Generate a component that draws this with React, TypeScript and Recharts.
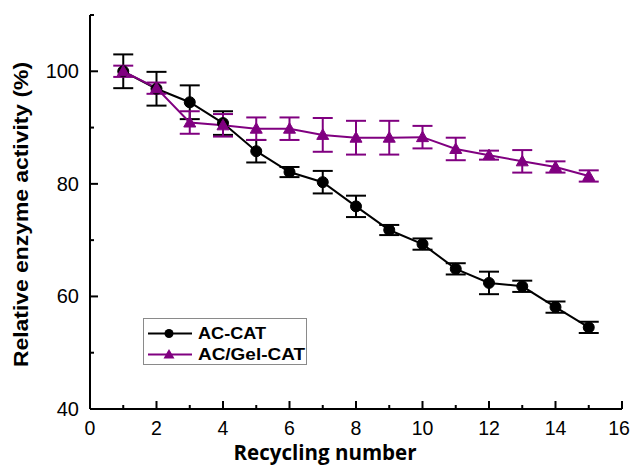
import React from 'react';
import { ComposedChart, Line, XAxis, YAxis, ErrorBar, Legend } from 'recharts';

const cycles = [1, 2, 3, 4, 5, 6, 7, 8, 9, 10, 11, 12, 13, 14, 15];
const acCat = [100, 96.9, 94.5, 90.8, 85.8, 82.1, 80.3, 76.0, 71.8, 69.3, 64.9, 62.4, 61.8, 58.1, 54.5];
const acCatErr = [3, 3, 3, 2.1, 2, 0.9, 2, 1.9, 0.9, 1, 1, 2, 1, 1, 1];
const acGel = [100, 97.0, 90.9, 90.4, 89.8, 89.8, 88.7, 88.2, 88.2, 88.3, 86.2, 85.1, 84.0, 83.0, 81.4];
const acGelErr = [1, 1, 2, 2, 2, 2, 3, 3, 3, 2, 2, 0.8, 2, 1, 1];
const xTicks = [0, 1, 2, 3, 4, 5, 6, 7, 8, 9, 10, 11, 12, 13, 14, 15, 16];
const yTicks = [40, 50, 60, 70, 80, 90, 100, 110];
const seriesNames = ['AC-CAT', 'AC/Gel-CAT'];

const BLACK = '#000000';
const PURPLE = '#800080';
const FONT = '"Liberation Sans", Arial, sans-serif';
const TITLE_FONT = '"Open Sans", "Liberation Sans", sans-serif';

const data = cycles.map((c, i) => ({
  cycle: c,
  acCat: acCat[i],
  acCatErr: acCatErr[i],
  acGel: acGel[i],
  acGelErr: acGelErr[i],
}));

const XTick = (props: any) => {
  const { x, y, payload } = props;
  const major = payload.value % 2 === 0;
  const tx = Math.min(x, 619);
  return (
    <g>
      <line x1={x} x2={x} y1={y} y2={y - (major ? 8 : 4)} stroke="#000" strokeWidth={2} />
      {major && (
        <text x={tx} y={y + 26} textAnchor="middle" fontSize={19.5} fontFamily={FONT} fill="#000">
          {payload.value}
        </text>
      )}
    </g>
  );
};

const YTick = (props: any) => {
  const { x, y, payload } = props;
  const major = payload.value % 20 === 0;
  return (
    <g>
      <line x1={x} x2={x + (major ? 8 : 4)} y1={y} y2={y} stroke="#000" strokeWidth={2} />
      {major && (
        <text x={x - 11} y={y + 7} textAnchor="end" fontSize={20} fontFamily={FONT} fill="#000">
          {payload.value}
        </text>
      )}
    </g>
  );
};

const Triangle = (props: any) => {
  const { cx, cy, fill } = props;
  if (cx == null || cy == null) return null;
  const h = 10;
  const w = 12;
  return (
    <polygon
      points={`${cx},${cy - h * 0.6} ${cx - w / 2},${cy + h * 0.45} ${cx + w / 2},${cy + h * 0.45}`}
      fill={fill}
      stroke={fill}
      strokeWidth={1}
    />
  );
};

const Circle = (props: any) => {
  const { cx, cy, fill } = props;
  if (cx == null || cy == null) return null;
  return <circle cx={cx} cy={cy} r={5.5} fill={fill} stroke={fill} />;
};

const LegendContent = () => (
  <svg width={165} height={48} style={{ display: 'block' }}>
    <rect x={0.5} y={0.5} width={163} height={46} fill="#fff" stroke="#8a8a8a" strokeWidth={1} />
    {seriesNames.map((name, i) => {
      const cy = 15.5 + i * 21;
      const color = i === 0 ? BLACK : PURPLE;
      return (
        <g key={name}>
          <line x1={5} x2={49} y1={cy} y2={cy} stroke={color} strokeWidth={2} />
          {i === 0 ? (
            <circle cx={26} cy={cy} r={4.5} fill={BLACK} />
          ) : (
            <polygon points={`26,${cy - 5.5} 20.5,${cy + 4} 31.5,${cy + 4}`} fill={PURPLE} />
          )}
          <text
            x={55}
            y={cy + 5.5}
            fontSize={16}
            fontWeight="bold"
            fontFamily={FONT}
            fill="#000"
            textLength={i === 0 ? 68 : 107}
            lengthAdjust="spacingAndGlyphs"
          >
            {name}
          </text>
        </g>
      );
    })}
  </svg>
);

export default function App() {
  return (
    <div style={{ position: 'absolute', left: 0, top: 0, background: '#fff' }}>
      <ComposedChart width={631} height={466} data={data} margin={{ top: 15, right: 9, left: 0, bottom: 0 }}>
        <XAxis
          type="number"
          dataKey="cycle"
          domain={[0, 16]}
          ticks={xTicks}
          interval={0}
          tickSize={0}
          tickMargin={0}
          tickLine={false}
          tick={<XTick />}
          height={57}
          axisLine={{ stroke: '#000', strokeWidth: 2 }}
          label={() => (
            <text
              x={325}
              y={460}
              textAnchor="middle"
              fontSize={21}
              fontWeight="bold"
              fontFamily={TITLE_FONT}
              fill="#000"
              textLength={183}
              lengthAdjust="spacingAndGlyphs"
            >
              Recycling number
            </text>
          )}
        />
        <YAxis
          type="number"
          domain={[40, 110]}
          ticks={yTicks}
          interval={0}
          tickSize={0}
          tickMargin={0}
          tickLine={false}
          tick={<YTick />}
          width={90}
          axisLine={{ stroke: '#000', strokeWidth: 2 }}
          label={() => (
            <text
              x={28}
              y={214.5}
              transform="rotate(-90 28 214.5)"
              textAnchor="middle"
              fontSize={20}
              fontWeight="bold"
              fontFamily={FONT}
              fill="#000"
              textLength={305}
              lengthAdjust="spacingAndGlyphs"
            >
              Relative enzyme activity (%)
            </text>
          )}
        />
        <Legend
          layout="vertical"
          align="center"
          verticalAlign="middle"
          wrapperStyle={{ left: 143, top: 318, width: 'auto' }}
          content={<LegendContent />}
        />
        <Line
          dataKey="acCat"
          name={seriesNames[0]}
          stroke={BLACK}
          strokeWidth={2}
          fill={BLACK}
          dot={<Circle fill={BLACK} />}
          isAnimationActive={false}
        >
          <ErrorBar dataKey="acCatErr" direction="y" width={10} stroke={BLACK} strokeWidth={2} />
        </Line>
        <Line
          dataKey="acGel"
          name={seriesNames[1]}
          stroke={PURPLE}
          strokeWidth={2}
          fill={PURPLE}
          dot={<Triangle fill={PURPLE} />}
          isAnimationActive={false}
        >
          <ErrorBar dataKey="acGelErr" direction="y" width={10} stroke={PURPLE} strokeWidth={2} />
        </Line>
      </ComposedChart>
    </div>
  );
}
